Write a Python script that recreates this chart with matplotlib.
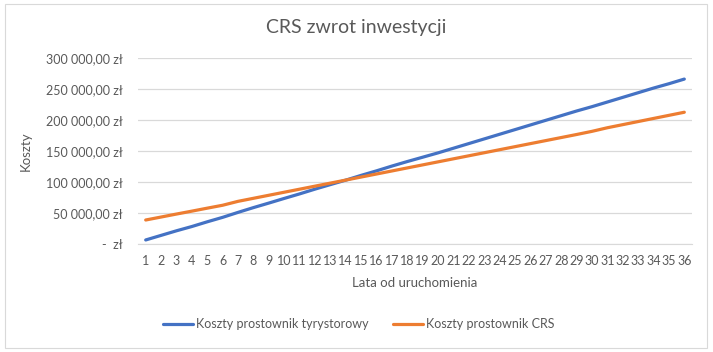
import numpy as np
import matplotlib
matplotlib.use('Agg')
import matplotlib.pyplot as plt
from matplotlib.ticker import FuncFormatter
from matplotlib.patches import Rectangle

plt.rcParams['font.family'] = ['Lato', 'DejaVu Sans']

# dane
lata = list(range(1, 37))
koszty_tyrystor = [6500, 13900, 21300, 28200, 35800, 43000, 51000, 58700, 66000, 73500,
                   80800, 88500, 95800, 103000, 110700, 118000, 125700, 133000, 140000, 147000,
                   154500, 162000, 169500, 177000, 184500, 192000, 199500, 207000, 214500, 221500,
                   229000, 236500, 244000, 251500, 258500, 266000]
koszty_crs = [38700, 43500, 48300, 53000, 57800, 62500, 68800, 73700, 78600, 83500,
              88400, 93300, 98200, 103100, 108000, 112900, 117800, 122700, 127600, 132500,
              137400, 142300, 147200, 152100, 157000, 161900, 166800, 171700, 176600, 181700,
              187500, 192500, 197500, 202500, 207500, 212500]
y_ticks = [0, 50000, 100000, 150000, 200000, 250000, 300000]

gray = '#595959'

fig = plt.figure(figsize=(7.13, 3.52), dpi=100)
ax = fig.add_axes([138/713, 1-244/352, 554/713, 186/352])

ax.plot(lata, koszty_tyrystor, color='#4472C4', lw=2.3, label='Koszty prostownik tyrystorowy',
        solid_capstyle='round')
ax.plot(lata, koszty_crs, color='#ED7D31', lw=2.3, label='Koszty prostownik CRS',
        solid_capstyle='round')

ax.set_xlim(0.5, 36.5)
ax.set_ylim(0, 300000)
ax.set_xticks(lata)
ax.set_xticklabels([str(x) for x in lata])
ax.set_yticks(y_ticks)


def zl(v, pos):
    if v == 0:
        return '-  zł'
    s = '{:,.2f}'.format(v).replace(',', ' ').replace('.', ',')
    return s + ' zł'


ax.yaxis.set_major_formatter(FuncFormatter(zl))
ax.grid(axis='y', color='#D9D9D9', lw=0.9)
ax.set_axisbelow(True)
for s in ['top', 'right', 'left']:
    ax.spines[s].set_visible(False)
ax.spines['bottom'].set_color('#D9D9D9')
ax.tick_params(axis='both', length=0, colors=gray, labelsize=9)
ax.tick_params(axis='y', pad=11)
ax.tick_params(axis='x', pad=8)

ax.set_xlabel('Lata od uruchomienia', color=gray, fontsize=9.5, labelpad=7)
ax.set_ylabel('Koszty', color=gray, fontsize=9.5, labelpad=10)
fig.text(0.5, 1-28/352, 'CRS zwrot inwestycji', ha='center', va='center', color=gray, fontsize=14)

fig.legend(loc='center', bbox_to_anchor=(0.503, 1-324/352), ncol=2, frameon=False,
           fontsize=9, labelcolor=gray, handlelength=2.4, handletextpad=0.2, columnspacing=2.0)

fig.patches.append(Rectangle((5/713, 4/352), 702/713, 344/352, transform=fig.transFigure,
                             fill=False, edgecolor='#D9D9D9', lw=0.8))

fig.savefig('out.png', dpi=100)
